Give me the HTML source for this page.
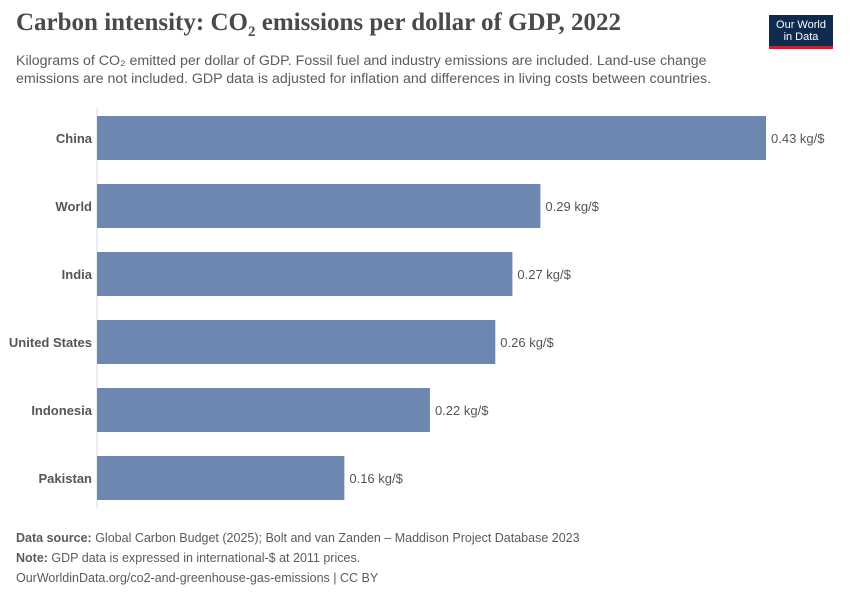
<!DOCTYPE html>
<html><head><meta charset="utf-8"><style>
body{margin:0;background:#fff;width:850px;height:600px;overflow:hidden;position:relative;font-family:"Liberation Sans",sans-serif}
.abs{position:absolute}
</style></head><body>
<div class="abs" style="left:16px;top:9px;font-family:'Liberation Serif',serif;font-size:25px;font-weight:bold;color:#4a4a4a;letter-spacing:0px">Carbon intensity: CO<sub style="font-size:15px">2</sub> emissions per dollar of GDP, 2022</div>
<div class="abs" style="left:769px;top:15px;width:64px;height:34px;background:#0f2a4f;border-bottom:3px solid #c2242f;color:#fff;font-size:11px;line-height:12px;text-align:center;padding-top:4px;box-sizing:border-box">Our World<br>in Data</div>
<div class="abs" style="left:16px;top:52px;font-size:14.2px;line-height:18px;color:#5b5b5b;width:735px">Kilograms of CO₂ emitted per dollar of GDP. Fossil fuel and industry emissions are included. Land-use change emissions are not included. GDP data is adjusted for inflation and differences in living costs between countries.</div>
<svg class="abs" style="left:0;top:0" width="850" height="600" id="chart"></svg>
<div class="abs" style="left:16px;top:528px;font-size:12.5px;line-height:20px;color:#5b5b5b">
<div><b>Data source:</b> Global Carbon Budget (2025); Bolt and van Zanden – Maddison Project Database 2023</div>
<div><b>Note:</b> GDP data is expressed in international-$ at 2011 prices.</div>
<div>OurWorldinData.org/co2-and-greenhouse-gas-emissions | CC BY</div>
</div>
<script>
const categories=["China","World","India","United States","Indonesia","Pakistan"];
const values=[0.430,0.285,0.267,0.256,0.214,0.159];
const labels=["0.43 kg/$","0.29 kg/$","0.27 kg/$","0.26 kg/$","0.22 kg/$","0.16 kg/$"];
const svg=document.getElementById('chart');
const NS='http://www.w3.org/2000/svg';
const x0=97,maxW=669,maxV=0.43;
const xs=v=>v/maxV*maxW;
const ys=i=>116+i*68;
const axis=document.createElementNS(NS,'line');
axis.setAttribute('x1',x0);axis.setAttribute('x2',x0);axis.setAttribute('y1',108);axis.setAttribute('y2',508);
axis.setAttribute('stroke','#ddd');


svg.appendChild(axis);
categories.forEach((c,i)=>{
 const r=document.createElementNS(NS,'rect');
 r.setAttribute('x',x0);r.setAttribute('y',ys(i));r.setAttribute('width',xs(values[i]));r.setAttribute('height',44);r.setAttribute('fill','#6d87b0');
 
 
 svg.appendChild(r);
 const t=document.createElementNS(NS,'text');
 t.setAttribute('x',92);t.setAttribute('y',ys(i)+27);t.setAttribute('text-anchor','end');
 t.setAttribute('font-size','13');t.setAttribute('font-weight','bold');t.setAttribute('fill','#555');t.setAttribute('font-family','Liberation Sans, sans-serif');
 t.textContent=c;
 
 
 svg.appendChild(t);
 const v=document.createElementNS(NS,'text');
 v.setAttribute('x',x0+xs(values[i])+5);v.setAttribute('y',ys(i)+27);
 v.setAttribute('font-size','13');v.setAttribute('fill','#555');v.setAttribute('font-family','Liberation Sans, sans-serif');
 v.textContent=labels[i];
 
 
 svg.appendChild(v);
});
</script>
</body></html>
